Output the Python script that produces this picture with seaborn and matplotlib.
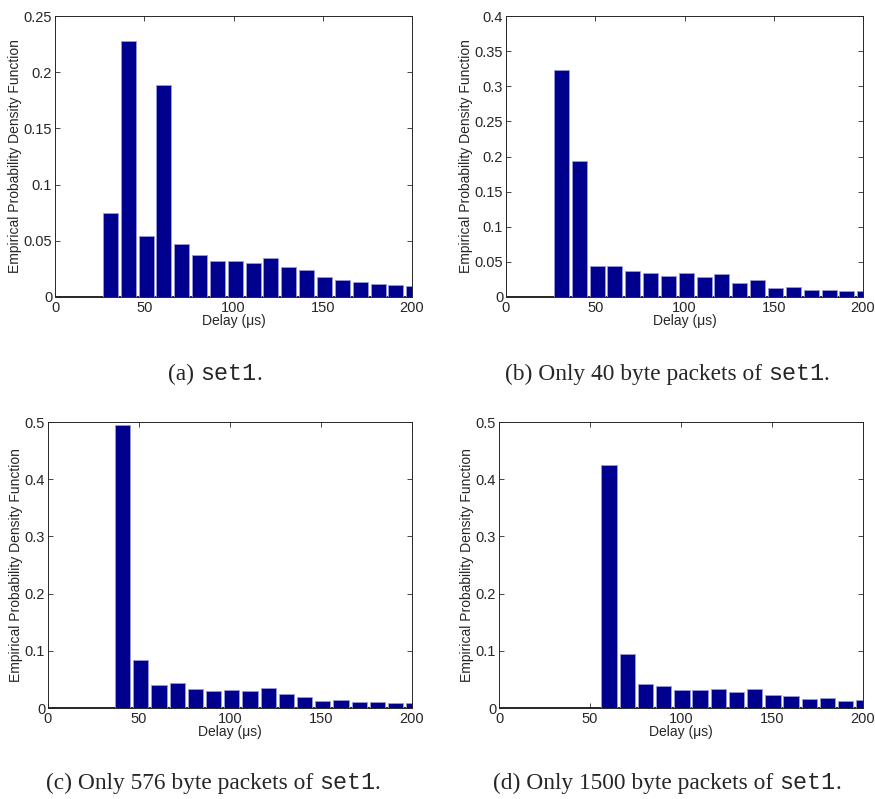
import numpy as np
import pandas as pd
import seaborn as sns
import matplotlib
matplotlib.use("Agg")
import matplotlib.pyplot as plt
from matplotlib.ticker import FuncFormatter

# Empirical PDF of the delay (bins of 10 us)
centers_a = np.arange(31, 205, 10)
pdf_a = [0.0748, 0.2277, 0.0546, 0.1882, 0.0472, 0.0371, 0.0324, 0.0324, 0.0306,
         0.0347, 0.0267, 0.0243, 0.0175, 0.0148, 0.0131, 0.0119, 0.0107, 0.0098]

centers_b = np.arange(31, 205, 10)
pdf_b = [0.323, 0.194, 0.0447, 0.0437, 0.0375, 0.0342, 0.0299, 0.0337, 0.0290,
         0.0323, 0.0204, 0.0247, 0.0133, 0.0143, 0.0105, 0.0105, 0.0086, 0.0081]

centers_c = np.arange(41, 205, 10)
pdf_c = [0.494, 0.0839, 0.0408, 0.0431, 0.0326, 0.0303, 0.0315, 0.0303, 0.0355,
         0.0239, 0.0186, 0.0128, 0.0140, 0.0105, 0.0111, 0.0082, 0.0087]

centers_d = np.arange(60.5, 205, 10)
pdf_d = [0.424, 0.0944, 0.0420, 0.0390, 0.0315, 0.0309, 0.0338, 0.0286, 0.0332,
         0.0227, 0.0204, 0.0152, 0.0175, 0.0122, 0.0134]

ymax = [0.25, 0.4, 0.5, 0.5]
ystep = [0.05, 0.05, 0.1, 0.1]
captions = ["(a) ", "(b) Only 40 byte packets of ",
            "(c) Only 576 byte packets of ", "(d) Only 1500 byte packets of "]

sns.set_style("ticks")
plt.rcParams["font.family"] = ["Liberation Sans", "DejaVu Sans"]
plt.rcParams["xtick.direction"] = "in"
plt.rcParams["ytick.direction"] = "in"

fig = plt.figure(figsize=(8.75, 7.99), dpi=100)
W, H = 875, 799

# axes boxes in pixels: left, top, right, bottom
boxes = [(55, 16, 412, 297), (506, 16, 863, 297),
         (48, 422, 412, 708), (499, 422, 863, 708)]
data = [(centers_a, pdf_a), (centers_b, pdf_b), (centers_c, pdf_c), (centers_d, pdf_d)]

for i, (box, (cx, py)) in enumerate(zip(boxes, data)):
    l, t, r, b = box
    ax = fig.add_axes([l / W, 1 - b / H, (r - l) / W, (b - t) / H])
    df = pd.DataFrame({"delay": cx, "pdf": py})
    sns.histplot(data=df, x="delay", weights="pdf", bins=len(cx), binwidth=10,
                 binrange=(cx[0] - 5, cx[-1] + 5), shrink=0.84, ax=ax,
                 color="#00008F", alpha=1, edgecolor="#9a9ad8", linewidth=0.6)
    ax.set_xlim(0, 200)
    ax.set_ylim(0, ymax[i])
    ax.set_xticks([0, 50, 100, 150, 200])
    ax.set_yticks(np.arange(0, ymax[i] + 1e-9, ystep[i]))
    ax.yaxis.set_major_formatter(FuncFormatter(lambda v, p: "%g" % round(v, 3)))
    ax.tick_params(top=True, right=True, length=3.5, width=0.6, labelsize=10.5, pad=2)
    ax.tick_params(axis="x", pad=3)
    for s in ax.spines.values():
        s.set_linewidth(0.7)
    ax.axhline(0, color="black", lw=1.2, zorder=0.5)
    ax.set_xlabel("Delay (\u03bcs)", fontsize=10, labelpad=-1)
    ax.set_ylabel("Empirical Probability Density Function", fontsize=10, labelpad=1)

# captions: serif text + monospace "set1" + ".", centred under each panel
cap_pos = [(215, 380), (667, 380), (213, 789), (667, 789)]
renderer = fig.canvas.get_renderer()
for (xc, yb), txt in zip(cap_pos, captions):
    t1 = fig.text(xc / W, 1 - yb / H, txt, family="Liberation Serif", fontsize=16.8,
                  va="baseline", ha="left")
    a2 = plt.annotate("set1", xy=(1, 0), xycoords=t1, family="Liberation Mono",
                      fontsize=16.8, va="bottom", ha="left", annotation_clip=False)
    a3 = plt.annotate(".", xy=(1, 0), xycoords=a2, va="bottom", ha="left",
                      family="Liberation Serif", fontsize=16.8, annotation_clip=False)
    w = sum(a.get_window_extent(renderer).width for a in (t1, a2, a3))
    t1.set_x((xc - w / 2) / W)

fig.savefig("out.png", dpi=100)
